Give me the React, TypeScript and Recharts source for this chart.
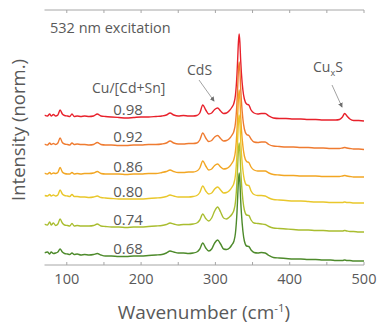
import { LineChart, Line, XAxis, YAxis } from 'recharts';

// Raman shift grid (cm-1)
const WAVENUMBER = [
  70, 74, 77, 79, 82, 85, 88, 91, 94, 97,
  101, 104, 107, 110, 114, 119, 124, 130, 136, 141,
  146, 152, 160, 170, 180, 190, 200, 210, 220, 228,
  234, 239, 244, 250, 257, 264, 270, 275, 279, 283,
  287, 291, 295, 299, 303, 307, 311, 315, 319, 322,
  325, 327, 329, 330, 331, 332, 333, 334, 335, 337,
  339, 342, 345, 348, 352, 357, 362, 367, 372, 378,
  386, 395, 405, 415, 425, 435, 445, 455, 462, 467,
  471, 474, 477, 481, 486, 493, 500,
];

// Normalized spectra, one per Cu/[Cd+Sn] ratio (before stacking)
const CU_098 = [
  2, 1, 3, 1, 2.5, 1, 2, 7, 3, 1.5,
  1, 0.5, 3, 0.5, 1, 0.5, 1, 0.5, 1, 3,
  1, 0.5, 0, -0.5, -1, -0.5, 0, 0, 0.5, 1,
  2, 4, 2, 1, 1.5, 1, 1, 1.5, 4, 12,
  7, 3, 4, 7.5, 9, 6, 3.5, 4, 6.5, 9.5,
  14, 22, 42, 58, 75, 83, 74, 57, 44, 27,
  18, 13, 12, 7, 4, 3, 3.5, 3.5, 1, -1,
  -1.5, -1.5, -2, -2, -2.5, -2.5, -3, -3, -3, -2.5,
  0, 3.5, 1, -2, -3.5, -3.5, -4,
];
const CU_092 = [
  1, 0, 2, 0.5, 1.5, 0.5, 2, 7, 2.5, 1,
  0.5, 0, 2, 0.5, 1, 0.5, 0.5, 0, 0.5, 2.5,
  0.5, 0, 0, -0.5, -0.5, 0, 0, 0.5, 0.5, 1,
  2, 4, 2, 1, 1, 1.5, 1.5, 2, 5, 12,
  7, 3.5, 4.5, 8, 9.5, 6.5, 4, 4.5, 6.5, 9.5,
  14, 22, 42, 58, 75, 83, 74, 57, 44, 26,
  16, 10.5, 9.5, 6, 3, 2.5, 3, 3, 0.5, -1,
  -1.5, -2, -2, -2.5, -2.5, -3, -3, -3.5, -3.5, -3.5,
  -3, -2.5, -3, -3.5, -4, -4, -4.5,
];
const CU_086 = [
  1, 0, 1.5, 0, 1, 0.5, 1.5, 6.5, 2, 0.5,
  0, 0, 1.5, 0, 0.5, 0, 0.5, 0.5, 1, 2.5,
  0.5, 0, 0, 0, -0.5, 0, 0, 0.5, 0.5, 1.5,
  2.5, 4, 2.5, 1.5, 1.5, 2, 2, 3, 6, 13,
  8, 4, 5, 8.5, 10, 7, 5, 5.5, 7.5, 10.5,
  15, 23, 43, 59, 76, 84, 75, 58, 45, 28,
  18, 12.5, 11.5, 7, 4, 3, 3, 3, 1, -0.5,
  -1, -1.5, -1.5, -2, -2, -2, -2.5, -2.5, -2.5, -2.5,
  -2, -1.5, -2, -2.5, -3, -3, -3,
];
const CU_080 = [
  3.5, 3, 4.5, 3, 4, 3, 4, 9, 5, 3.5,
  3, 2.5, 4.5, 2.5, 2.5, 2, 2, 1.5, 2, 3,
  1.5, 1, 0.5, 0, 0, 0, 0, 0.5, 1, 1.5,
  2.5, 4, 3, 2, 2, 2, 2.5, 3.5, 6.5, 13,
  8, 5, 6, 10, 12, 9, 6, 6.5, 8.5, 11.5,
  16, 24, 44, 60, 77, 84, 76, 59, 46, 29,
  19, 14, 13.5, 8, 4.5, 3.5, 3.5, 3, 1, -0.5,
  -1, -1.5, -2, -2, -2.5, -3, -3, -3.5, -3.5, -3.5,
  -3.5, -3, -3.5, -3.5, -4, -4, -4,
];
const CU_074 = [
  3, 2, 5, 2, 4, 1.5, 3, 8, 4, 2,
  1.5, 1, 3.5, 1, 1.5, 1, 1, 1, 1.5, 3,
  1, 0.5, 0, 0, -0.5, 0, 0, 0.5, 1, 1.5,
  2.5, 4, 3, 2, 2.5, 2.5, 3, 4, 7, 13,
  8.5, 6, 9, 16, 20, 15, 9, 8, 10, 12.5,
  17, 25, 45, 61, 77, 84, 75, 58, 45, 27,
  17, 12, 11.5, 7, 4, 3.5, 3, 2.5, 0.5, -1,
  -1.5, -2, -2.5, -3, -3, -3.5, -3.5, -4, -4, -4,
  -4, -3.5, -4, -4.5, -4.5, -5, -5,
];
const CU_068 = [
  3, 4, 2, 4, 2.5, 3, 4, 7, 4, 2.5,
  2, 1.5, 3, 1.5, 2, 1, 1.5, 1, 1.5, 2.5,
  1, 0, 0, -0.5, -0.5, 0, 0, 0.5, 1, 1.5,
  3, 5, 4, 3, 3, 2.5, 3, 4, 7, 13,
  8, 5, 7, 13, 16, 12, 7, 6.5, 8, 11,
  15, 23, 43, 59, 75, 83, 74, 56, 43, 25,
  15, 10, 9.5, 6, 3.5, 3, 3.5, 3, 0.5, -1.5,
  -2, -2.5, -3, -3, -3.5, -3.5, -4, -4, -4.5, -4.5,
  -4.5, -4, -4.5, -4.5, -5, -5, -5,
];

const RATIOS = ['0.98', '0.92', '0.86', '0.80', '0.74', '0.68'];
const SPECTRA = [CU_098, CU_092, CU_086, CU_080, CU_074, CU_068];
const STACK_OFFSETS = [139, 111, 82, 57, 29, 0];
const COLORS = ['#e8212b', '#ef7b30', '#f2a623', '#e9c72b', '#a9bd2f', '#4d8a2b'];

const X_TICKS = [100, 150, 200, 250, 300, 350, 400, 450, 500];

const data = WAVENUMBER.map((w, i) => {
  const row: Record<string, number> = { w };
  RATIOS.forEach((r, k) => {
    row[r] = SPECTRA[k][i] + STACK_OFFSETS[k];
  });
  return row;
});

const AXIS = '#a6a6a6';
const TXT = '#595959';
const FONT = '"Open Sans", sans-serif';

const BottomTick = ({ x, y, payload }: any) => (
  <g>
    <line x1={x} x2={x} y1={y} y2={y - 3} stroke={AXIS} />
    {payload.value % 100 === 0 && (
      <text x={x} y={y + 18.5} textAnchor="middle" fontSize={14.5} fill={TXT} fontFamily={FONT}>
        {payload.value}
      </text>
    )}
  </g>
);

const TopTick = ({ x, y }: any) => (
  <line x1={x} x2={x} y1={y} y2={y + 3} stroke={AXIS} />
);

// ratio labels sit just above each trace
const LABEL_Y = [114.5, 141.5, 171.5, 196.5, 224.5, 253.5];

export default function App() {
  return (
    <div style={{ position: 'absolute', left: 0, top: 0, width: 379, height: 324, background: '#fff' }}>
      <LineChart
        width={379}
        height={324}
        data={data}
        margin={{ top: 9, right: 15, bottom: 0, left: 44.5 }}
      >
        <XAxis
          xAxisId="b"
          dataKey="w"
          type="number"
          domain={[70, 500]}
          ticks={X_TICKS}
          allowDataOverflow
          height={59}
          stroke={AXIS}
          tickLine={false}
          tickSize={0}
          tickMargin={0}
          tick={<BottomTick />}
        />
        <XAxis
          xAxisId="t"
          orientation="top"
          dataKey="w"
          type="number"
          domain={[70, 500]}
          ticks={X_TICKS}
          height={1}
          stroke={AXIS}
          tickLine={false}
          tickSize={0}
          tickMargin={0}
          tick={<TopTick />}
        />
        <YAxis yAxisId="l" domain={[-9, 246]} width={0} tick={false} tickLine={false} stroke={AXIS} />
        <YAxis
          yAxisId="r"
          orientation="right"
          domain={[-9, 246]}
          width={0}
          tick={false}
          tickLine={false}
          stroke="#dcdcdc"
          strokeWidth={2}
        />
        {RATIOS.map((r, k) => (
          <Line
            key={r}
            xAxisId="b"
            yAxisId="l"
            type="monotone"
            dataKey={r}
            stroke={COLORS[k]}
            strokeWidth={1.4}
            dot={false}
            isAnimationActive={false}
          />
        ))}
      </LineChart>

      <svg
        width={379}
        height={324}
        style={{ position: 'absolute', left: 0, top: 0, pointerEvents: 'none' }}
        fontFamily={FONT}
      >
        <defs>
          <marker id="head" markerWidth="6" markerHeight="6" refX="5" refY="3" orient="auto">
            <path d="M0,0 L6,3 L0,6 z" fill="#6e6e6e" />
          </marker>
        </defs>
        <text x={50} y={33} fontSize={14.5} fill={TXT}>532 nm excitation</text>
        <text x={92} y={93} fontSize={14} fill={TXT}>Cu/[Cd+Sn]</text>
        <text x={187} y={75} fontSize={14} fill={TXT}>CdS</text>
        <text x={313} y={72} fontSize={14} fill={TXT}>
          Cu<tspan fontSize={9} dy={4}>x</tspan><tspan dy={-4}>S</tspan>
        </text>
        <line x1={199} y1={80} x2={214} y2={101} stroke="#8a8a8a" strokeWidth={0.8} markerEnd="url(#head)" />
        <line x1={332} y1={85} x2={342} y2={107} stroke="#8a8a8a" strokeWidth={0.8} markerEnd="url(#head)" />
        {RATIOS.map((r, k) => (
          <text key={r} x={128} y={LABEL_Y[k]} fontSize={15} fill={TXT} textAnchor="middle">
            {r}
          </text>
        ))}
        <text x={204} y={319} fontSize={19} fill={TXT} textAnchor="middle">
          Wavenumber (cm<tspan fontSize={11.5} dy={-7}>-1</tspan><tspan dy={7}>)</tspan>
        </text>
        <text
          x={0}
          y={0}
          fontSize={18.5}
          fill={TXT}
          textAnchor="middle"
          transform="translate(24.5, 130) rotate(-90)"
        >
          Intensity (norm.)
        </text>
      </svg>
    </div>
  );
}
